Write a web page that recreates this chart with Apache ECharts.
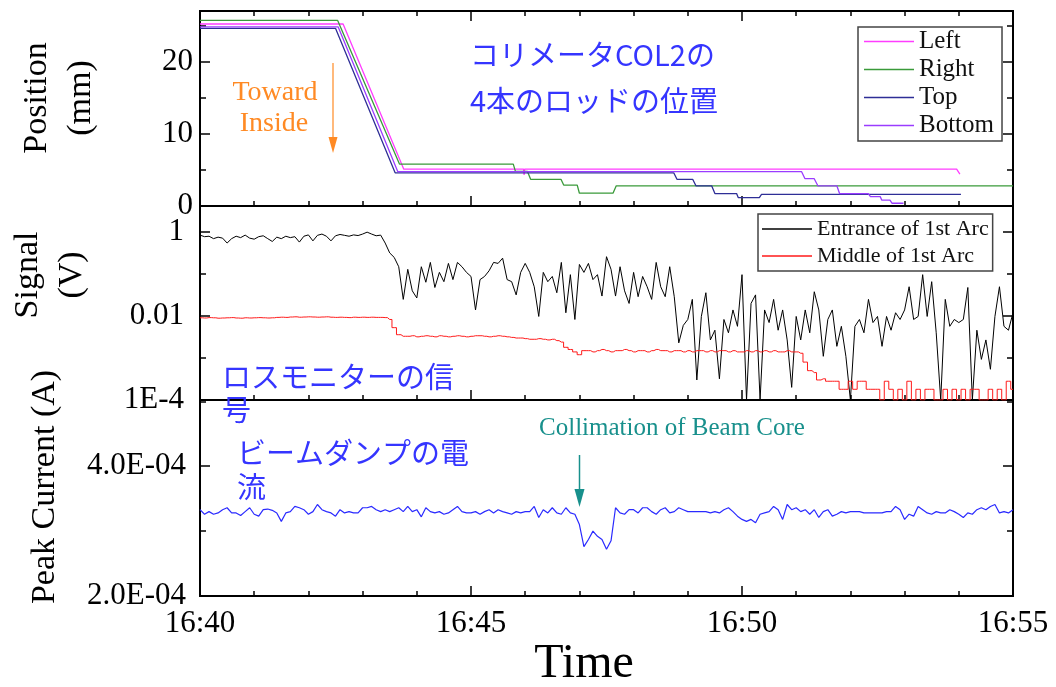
<!DOCTYPE html>
<html>
<head>
<meta charset="utf-8">
<script src="https://cdn.jsdelivr.net/npm/echarts@6/dist/echarts.min.js"></script>
<style>
  html, body { margin: 0; padding: 0; background: #fff; }
  #chart { width: 1056px; height: 687px; }
</style>
</head>
<body>
<div id="chart"></div>
<script>
// Time axis: minutes after 16:40
const timeLabels = ['16:40', '16:45', '16:50', '16:55'];
const SAMPLE_MIN = 5 / 60; // loss monitor / peak current sampled every 5 s

// Collimator COL2 rod positions (mm): [minute, position]
const leftPos = [[0, 25.2], [2.64, 25.2], [3.76, 5.1], [5.97, 5.1], [5.98, 4.3], [5.99, 5.1], [13.96, 5.1], [14.02, 4.4]];
const rightPos = [[0, 25.7], [2.54, 25.7], [3.68, 5.8], [5.78, 5.8], [5.82, 4.8], [6.04, 4.8], [6.1, 3.7], [6.66, 3.7], [6.71, 2.9], [6.96, 2.9], [7.0, 1.77], [7.62, 1.77], [7.68, 2.8], [15, 2.8]];
const topPos = [[0, 24.6], [2.5, 24.6], [3.6, 4.6], [8.74, 4.6], [8.8, 3.7], [9.09, 3.7], [9.15, 2.8], [9.44, 2.8], [9.5, 1.72], [9.9, 1.72], [9.93, 1.17], [10.32, 1.17], [10.36, 1.6], [14.04, 1.6]];
const bottomPos = [[0, 24.8], [2.55, 24.8], [3.65, 4.75], [11.1, 4.75], [11.16, 3.8], [11.33, 3.8], [11.4, 2.8], [11.75, 2.8], [11.8, 1.72], [12.33, 1.72], [12.37, 1.3], [12.55, 1.3], [12.58, 0.8], [12.73, 0.8], [12.77, 0.38], [12.98, 0.38]];

// Loss monitor signal (V), entrance of 1st arc
const entranceV = [
  0.85, 0.78, 0.8, 0.7, 0.76, 0.72, 0.55, 0.7, 0.8, 0.74,
  0.85, 0.72, 0.68, 0.78, 0.82, 0.7, 0.6, 0.76, 0.7, 0.8,
  0.74, 0.78, 0.58, 0.8, 0.86, 0.62, 0.84, 0.9, 0.8, 0.62,
  0.82, 0.88, 0.84, 0.8, 0.86, 0.83, 0.9, 1.0, 0.9, 0.82,
  0.85, 0.55, 0.32, 0.25, 0.15, 0.025, 0.13, 0.04, 0.027, 0.15,
  0.064, 0.19, 0.048, 0.11, 0.066, 0.18, 0.074, 0.19, 0.15, 0.11,
  0.088, 0.014, 0.074, 0.088, 0.12, 0.19, 0.18, 0.24, 0.074, 0.066,
  0.032, 0.11, 0.18, 0.11, 0.05, 0.0098, 0.11, 0.066, 0.088, 0.036,
  0.19, 0.012, 0.097, 0.0083, 0.17, 0.11, 0.18, 0.074, 0.097, 0.03,
  0.26, 0.13, 0.03, 0.15, 0.04, 0.02, 0.11, 0.029, 0.088, 0.05,
  0.025, 0.19, 0.05, 0.029, 0.15, 0.029, 0.0023, 0.006, 0.0083, 0.025,
  0.0003, 0.0098, 0.036, 0.0027, 0.0046, 0.00032, 0.0083, 0.004, 0.014, 0.0057,
  0.097, 0.0001, 0.02, 0.032, 0.0001, 0.014, 0.007, 0.025, 0.0046, 0.014,
  0.0027, 0.0002, 0.0098, 0.0027, 0.014, 0.004, 0.038, 0.014, 0.0011, 0.0083,
  0.014, 0.0019, 0.0057, 0.0011, 0.0001, 0.0057, 0.0083, 0.004, 0.025, 0.007,
  0.0098, 0.0019, 0.0098, 0.0046, 0.012, 0.0083, 0.014, 0.05, 0.0083, 0.0098,
  0.097, 0.0098, 0.066, 0.004, 0.0001, 0.025, 0.0057, 0.0083, 0.007, 0.0083,
  0.048, 0.0001, 0.0046, 0.00093, 0.0027, 0.00054, 0.0098, 0.05, 0.0057, 0.0046,
  0.012
];

// Loss monitor signal (V), middle of 1st arc
const middleV = [
  0.0091, 0.009, 0.0092, 0.0091, 0.0089, 0.009, 0.0091, 0.0092, 0.009, 0.0089,
  0.0091, 0.009, 0.0091, 0.0092, 0.0091, 0.009, 0.0091, 0.0093, 0.0094, 0.0093,
  0.0095, 0.0096, 0.0094, 0.0095, 0.0096, 0.0095, 0.0094, 0.0095, 0.0096, 0.0094,
  0.0093, 0.0094, 0.0093, 0.0092, 0.0094, 0.0093, 0.0094, 0.0093, 0.0094, 0.0093,
  0.0093, 0.0092, 0.0083, 0.0053, 0.0036, 0.0033,
  0.0033, 0.0034, 0.0032, 0.0033, 0.0034, 0.0033, 0.0032, 0.0034, 0.0033, 0.0032,
  0.0033, 0.0034, 0.0033, 0.0032, 0.0033, 0.0034, 0.0034, 0.0033, 0.0032, 0.0033,
  0.0034, 0.0033, 0.0032, 0.0031, 0.003,
  0.003, 0.0029, 0.0028, 0.0028, 0.0029, 0.0028, 0.0027, 0.0028, 0.0026,
  0.0024, 0.0018, 0.0016, 0.0014, 0.0012, 0.0015,
  0.0015, 0.0014, 0.0015, 0.0016, 0.0015, 0.0014, 0.0015, 0.0015, 0.0016, 0.0015,
  0.0014, 0.0015, 0.0015, 0.0014, 0.0015, 0.0016, 0.0015, 0.0015, 0.0014, 0.0015,
  0.0015, 0.0014, 0.0015, 0.0014, 0.0015, 0.0015, 0.0014, 0.0015, 0.0014, 0.0015,
  0.0015, 0.0014, 0.0015, 0.0014, 0.0014, 0.0015, 0.0014, 0.0015, 0.0014, 0.0015,
  0.0014, 0.0015, 0.0014, 0.0014, 0.0015, 0.0014, 0.0014, 0.0013,
  0.0008, 0.0005, 0.00045, 0.0003, 0.00032, 0.00028, 0.00028, 0.00028,
  0.00018, 0.00018, 0.00028, 0.00018, 0.00028, 0.00028, 0.00018, 0.00018,
  0.00018, 0.0001, 0.00028, 0.00018, 0.0001, 0.00018, 0.0001, 0.00028, 0.0001, 0.00018,
  0.0001, 0.00018, 0.00018, 0.0001, 0.0001, 0.00018, 0.0001, 0.00018, 0.0001, 0.00018,
  0.0001, 0.00018, 0.00018, 0.0001, 0.0001, 0.00018, 0.0001, 0.00018, 0.0001, 0.00028,
  0.00018
];

// Beam dump peak current, in units of 1E-04 A
const peakCurrent = [
  3.33, 3.26, 3.3, 3.26, 3.28, 3.33, 3.36, 3.28, 3.28, 3.24,
  3.3, 3.36, 3.26, 3.23, 3.33, 3.34, 3.32, 3.28, 3.15, 3.28,
  3.3, 3.38, 3.36, 3.33, 3.26, 3.3, 3.41, 3.33, 3.3, 3.28,
  3.23, 3.33, 3.28, 3.3, 3.28, 3.28, 3.36, 3.36, 3.38, 3.33,
  3.3, 3.33, 3.3, 3.33, 3.36, 3.3, 3.38, 3.3, 3.33, 3.22,
  3.36, 3.3, 3.28, 3.3, 3.26, 3.28, 3.33, 3.38, 3.3, 3.28,
  3.28, 3.3, 3.26, 3.3, 3.33, 3.28, 3.33, 3.3, 3.28, 3.26,
  3.3, 3.28, 3.3, 3.3, 3.38, 3.21, 3.33, 3.28, 3.36, 3.28,
  3.26, 3.36, 3.28, 3.26, 3.1, 2.76, 2.87, 3.0, 2.92, 2.87,
  2.72, 2.85, 3.36, 3.28, 3.26, 3.33, 3.33, 3.28, 3.36, 3.36,
  3.3, 3.26, 3.33, 3.36, 3.28, 3.3, 3.36, 3.33, 3.3, 3.3,
  3.3, 3.3, 3.3, 3.28, 3.3, 3.28, 3.33, 3.36, 3.3, 3.23,
  3.18, 3.15, 3.18, 3.13, 3.26, 3.28, 3.3, 3.38, 3.33, 3.18,
  3.41, 3.33, 3.36, 3.3, 3.33, 3.26, 3.33, 3.21, 3.3, 3.33,
  3.23, 3.26, 3.3, 3.28, 3.3, 3.3, 3.3, 3.28, 3.28, 3.28,
  3.28, 3.28, 3.3, 3.3, 3.38, 3.33, 3.18, 3.26, 3.23, 3.38,
  3.33, 3.28, 3.26, 3.3, 3.28, 3.28, 3.33, 3.3, 3.26, 3.21,
  3.28, 3.26, 3.33, 3.36, 3.33, 3.38, 3.41, 3.28, 3.3, 3.28,
  3.33
];

const SERIF = '"Liberation Serif", "Times New Roman", serif';
const JP = '"Noto Sans CJK JP", sans-serif';
const INK = '#000';

const sampled = arr => arr.map((v, i) => [i * SAMPLE_MIN, v]);

function ticks(len) {
  return { show: true, inside: true, length: len, lineStyle: { color: INK, width: 1.5 } };
}
const frameLine = { show: true, onZero: false, lineStyle: { color: INK, width: 2 } };

function timeAxis(grid, position, withTicks, withLabels) {
  return {
    type: 'value', gridIndex: grid, position, min: 0, max: 15, interval: 5,
    axisLine: frameLine,
    axisTick: withTicks ? ticks(10) : { show: false, inside: true },
    minorTick: withTicks ? { show: true, splitNumber: 5, length: 5, lineStyle: { color: INK, width: 1.5 } } : { show: false },
    splitLine: { show: false }, minorSplitLine: { show: false },
    axisLabel: withLabels ? {
      show: true, margin: 12, color: INK, fontFamily: SERIF, fontSize: 31,
      formatter: v => timeLabels[Math.round(v / 5)] || ''
    } : { show: false }
  };
}

function valueAxis(grid, position, extra, len, label) {
  return Object.assign({
    gridIndex: grid, position,
    axisLine: frameLine,
    axisTick: ticks(len),
    splitLine: { show: false },
    axisLabel: label ? Object.assign({ show: true, color: INK, fontFamily: SERIF, fontSize: 31 }, label) : { show: false }
  }, extra);
}

const posRange = { type: 'value', min: 0, max: 27 };
const sigRange = { type: 'log', min: 1e-4, max: 4.2 };
const curRange = { type: 'value', min: 2, max: 5.02 };

const posLabel = { margin: 7, formatter: v => (v === 0 || v === 10 || v === 20) ? String(v) : '' };
const sigLabel = {
  margin: 16,
  formatter: v => Math.abs(v - 1) < 1e-9 ? '1' : Math.abs(v - 0.01) < 1e-9 ? '0.01' : Math.abs(v - 1e-4) < 1e-12 ? '1E-4' : ''
};
const curLabel = { margin: 14, formatter: v => v === 2 ? '2.0E-04' : v === 4 ? '4.0E-04' : '' };

const yAxes = [
  // position panel
  valueAxis(0, 'left', Object.assign({ interval: 10 }, posRange), 10, posLabel),
  valueAxis(0, 'left', Object.assign({ interval: 5 }, posRange), 6),
  valueAxis(0, 'right', Object.assign({ interval: 10 }, posRange), 10),
  valueAxis(0, 'right', Object.assign({ interval: 5 }, posRange), 6),
  // signal panel (base-100 axis carries the long ticks, base-10 the short ones)
  valueAxis(1, 'left', Object.assign({ logBase: 100 }, sigRange), 10, sigLabel),
  valueAxis(1, 'left', Object.assign({ logBase: 10 }, sigRange), 6),
  valueAxis(1, 'right', Object.assign({ logBase: 100 }, sigRange), 10),
  valueAxis(1, 'right', Object.assign({ logBase: 10 }, sigRange), 6),
  // peak current panel
  valueAxis(2, 'left', Object.assign({ interval: 2 }, curRange), 10, curLabel),
  valueAxis(2, 'left', Object.assign({ interval: 1 }, curRange), 6),
  valueAxis(2, 'right', Object.assign({ interval: 2 }, curRange), 10),
  valueAxis(2, 'right', Object.assign({ interval: 1 }, curRange), 6)
];

const xAxes = [
  timeAxis(0, 'bottom', true, false),
  timeAxis(0, 'top', true, false),
  timeAxis(1, 'bottom', true, false),
  timeAxis(1, 'top', false, false),
  timeAxis(2, 'bottom', true, true),
  timeAxis(2, 'top', false, false)
];

function line(name, data, color, width, xi, yi, extra) {
  return Object.assign({
    name, type: 'line', data, xAxisIndex: xi, yAxisIndex: yi,
    symbol: 'none', showSymbol: false, smooth: false,
    lineStyle: { color, width }, itemStyle: { color },
    emphasis: { disabled: true }, silent: true, clip: true
  }, extra || {});
}

const legendBase = {
  orient: 'vertical', itemWidth: 50, itemHeight: 1.6, icon: 'rect', selectedMode: false,
  borderColor: '#444', borderWidth: 1.5, borderRadius: 0, backgroundColor: '#fff',
  textStyle: { fontFamily: SERIF, color: '#111' }
};

const blueJP = '#3535ff';
function jpText(x, y, text) {
  return { type: 'text', x, y, z: 50, style: { text, fill: blueJP, fontFamily: JP, fontSize: 29, align: 'left', verticalAlign: 'middle' } };
}
function serifText(x, y, text, size, fill, rot) {
  return {
    type: 'text', x, y, rotation: rot || 0, z: 50,
    style: { text, fill, fontFamily: SERIF, fontSize: size, align: 'center', verticalAlign: 'middle', lineHeight: size * 1.3 }
  };
}

const ORANGE = '#ff8a24';
const TEAL = '#18908c';

const chart = echarts.init(document.getElementById('chart'), null, { renderer: 'canvas' });
chart.setOption({
  animation: false,
  backgroundColor: '#fff',
  grid: [
    { left: 200, top: 11, width: 813, height: 195 },
    { left: 200, top: 206, width: 813, height: 194 },
    { left: 200, top: 400, width: 813, height: 196 }
  ],
  xAxis: xAxes,
  yAxis: yAxes,
  legend: [
    Object.assign({}, legendBase, {
      data: ['Left', 'Right', 'Top', 'Bottom'], left: 858, top: 27, itemGap: 3,
      padding: [2, 8, 3, 6], textStyle: Object.assign({}, legendBase.textStyle, { fontSize: 25 })
    }),
    Object.assign({}, legendBase, {
      data: ['Entrance of 1st Arc', 'Middle of 1st Arc'], left: 758, top: 214, itemGap: 5,
      padding: [4, 4, 4, 4], textStyle: Object.assign({}, legendBase.textStyle, { fontSize: 22 })
    })
  ],
  series: [
    line('Left', leftPos, '#ff3cff', 1.3, 0, 0),
    line('Right', rightPos, '#3a9a3a', 1.3, 0, 0),
    line('Top', topPos, '#2e2e96', 1.3, 0, 0),
    line('Bottom', bottomPos, '#9a3cff', 1.3, 0, 0),
    line('Entrance of 1st Arc', sampled(entranceV), '#000', 1, 2, 4),
    line('Middle of 1st Arc', sampled(middleV), '#ff1a1a', 1, 2, 4, { step: 'middle' }),
    line('Peak Current', sampled(peakCurrent), '#2a2aff', 1.2, 4, 8)
  ],
  graphic: [
    serifText(59, 98, 'Position\n(mm)', 34, INK, Math.PI / 2),
    serifText(50, 275, 'Signal\n(V)', 34, INK, Math.PI / 2),
    serifText(45, 487, 'Peak Current (A)', 34, INK, Math.PI / 2),
    serifText(584, 664, 'Time', 48, INK),
    serifText(275, 93, 'Toward', 28, ORANGE),
    serifText(274, 124, 'Inside', 28, ORANGE),
    { type: 'line', z: 50, shape: { x1: 333, y1: 63, x2: 333, y2: 140 }, style: { stroke: ORANGE, lineWidth: 1.2 } },
    { type: 'polygon', z: 50, shape: { points: [[328.5, 137], [337.5, 137], [333, 153]] }, style: { fill: ORANGE } },
    serifText(672, 428, 'Collimation of Beam Core', 25, TEAL),
    { type: 'line', z: 50, shape: { x1: 579.5, y1: 455, x2: 579.5, y2: 492 }, style: { stroke: TEAL, lineWidth: 1.5 } },
    { type: 'polygon', z: 50, shape: { points: [[574.5, 489], [584.5, 489], [579.5, 507]] }, style: { fill: TEAL } },
    jpText(470, 55, 'コリメータCOL2の'),
    jpText(470, 101, '4本のロッドの位置'),
    jpText(222, 377, 'ロスモニターの信'),
    jpText(222, 410, '号'),
    jpText(237, 453, 'ビームダンプの電'),
    jpText(237, 487, '流')
  ]
});
</script>
</body>
</html>
